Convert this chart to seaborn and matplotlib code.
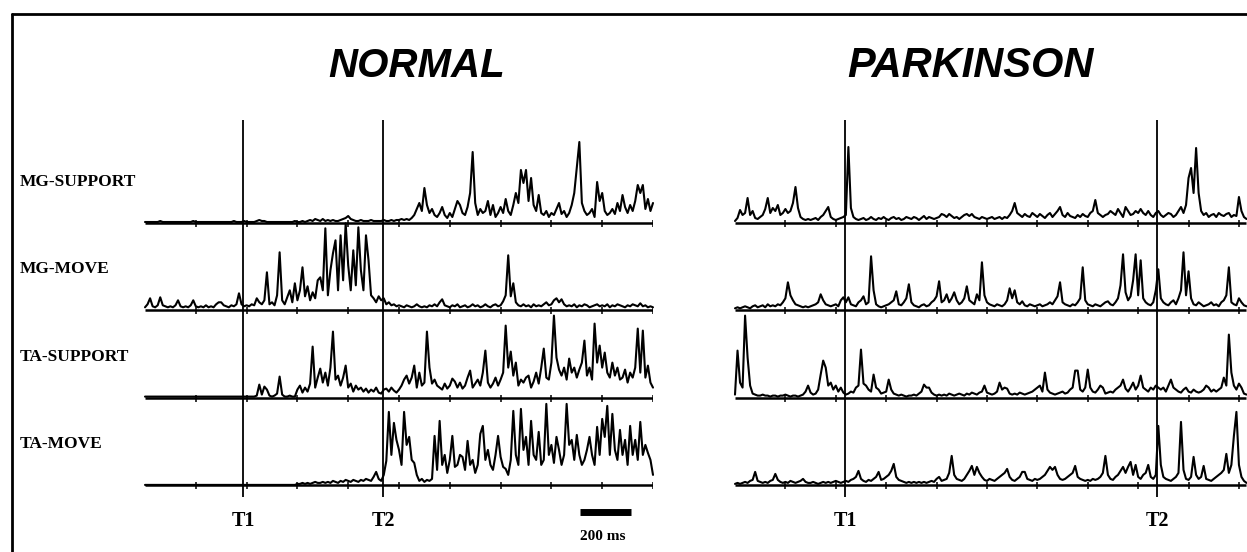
import numpy as np
import pandas as pd
import matplotlib
matplotlib.use("Agg")
import matplotlib.pyplot as plt
import seaborn as sns
from matplotlib.lines import Line2D

# ---------------- data ----------------
panels = ["NORMAL", "PARKINSON"]
rows = ["MG-SUPPORT", "MG-MOVE", "TA-SUPPORT", "TA-MOVE"]
sample_ms = 10
event_labels = ["T1", "T2"]
normal_events_ms = [386, 937]
parkinson_events_ms = [437, 1675]
tick_step_ms = 200
scale_bar_ms = 200

normal_mg_support = [
    1,1,1,1,1,1,2,1,1,1, 1,1,1,1,1,1,1,1,1,2, 1,1,1,1,1,1,1,1,1,1, 1,1,1,1,1,2,1,1,1,2,
    1,1,1,1,2,3,2,2,1,1, 1,1,1,1,1,1,1,1,1,2, 1,1,2,1,2,3,2,4,3,2, 4,2,3,2,3,2,2,3,4,5,
    7,4,3,2,2,3,2,2,2,3, 2,2,2,2,3,2,2,3,2,3, 3,4,3,4,3,5,8,14,20,12, 35,18,10,14,8,6,10,16,8,5,
    10,6,14,22,18,10,8,16,30,71, 20,8,14,10,12,22,8,18,6,10, 16,10,24,12,8,18,30,20,53,40,
    53,22,45,18,12,28,10,8,12,6, 10,8,14,20,9,12,6,10,18,30, 55,81,20,12,8,10,14,6,41,22,
    30,12,8,10,14,9,20,12,28,16, 10,18,12,22,38,30,38,14,24,12, 20]
normal_mg_move = [
    3,6,12,4,3,5,13,5,4,3, 4,3,5,10,4,3,4,3,5,10, 4,3,4,3,5,3,4,3,6,8, 8,5,4,3,5,4,6,17,6,4,
    5,4,6,5,12,8,6,10,38,6, 8,5,15,58,10,6,13,20,8,27, 10,20,43,14,24,10,18,12,30,33,
    20,82,15,40,57,70,20,75,30,87, 45,20,60,25,83,40,20,75,50,15, 12,8,14,10,12,6,8,5,6,4,
    5,4,3,5,4,3,4,6,4,3, 4,3,5,4,6,4,8,11,5,4, 3,5,4,6,3,4,5,3,4,6, 4,5,3,4,6,4,3,5,6,4,
    5,9,15,55,14,27,8,5,4,6, 4,5,3,6,4,5,4,6,8,5, 6,10,12,8,11,6,4,5,4,6, 3,5,4,6,5,3,4,5,6,4,
    5,4,6,3,5,4,6,5,4,3, 5,4,6,5,4,7,4,5,3,4, 3]
normal_ta_support = [
    1,1,1,1,1,1,1,1,1,1, 1,1,1,1,1,1,1,1,1,1, 1,1,1,1,1,1,1,1,1,1, 1,1,1,1,1,1,1,1,1,1,
    1,1,1,1,2,13,3,11,8,2, 1,2,4,21,3,1,1,2,1,1, 8,12,5,10,6,14,51,10,20,29,
    15,25,12,30,66,18,22,12,20,32, 10,14,6,12,8,10,6,9,5,8, 6,10,5,4,8,9,6,10,7,5,
    8,12,18,22,14,20,32,10,25,12, 15,66,30,14,18,12,10,8,14,9, 12,19,16,10,15,9,12,20,27,10,
    14,18,12,25,47,15,10,14,20,12, 18,25,72,30,46,22,35,12,18,15, 20,22,10,16,25,14,30,49,20,18,
    35,82,40,28,22,30,18,39,25,30, 20,28,35,57,22,30,18,74,35,52, 30,45,25,20,35,22,30,18,20,28,
    15,25,20,30,69,25,67,20,32,15, 10]
normal_ta_move = [
    0,0,0,0,0,0,0,0,0,0, 0,0,0,0,0,0,0,0,0,0, 0,0,0,0,0,0,0,0,0,0, 0,0,0,0,0,0,0,0,0,0,
    0,0,0,0,0,0,0,0,0,0, 0,0,0,0,0,0,0,0,0,0, 1,1,2,1,2,1,2,3,2,2, 3,2,3,2,4,3,2,4,3,5,
    4,3,5,4,3,5,4,6,5,4, 8,13,6,4,10,24,73,30,62,45, 35,20,73,40,48,25,22,10,4,6,
    3,5,4,6,49,15,64,20,30,12, 25,49,18,20,30,28,15,44,20,25, 12,20,51,59,25,35,20,15,30,49,
    28,18,16,10,25,74,30,20,76,35, 48,20,64,30,25,53,20,25,81,30, 40,22,48,35,20,30,81,40,45,25,
    50,30,20,25,35,48,30,20,58,30, 66,48,79,30,71,35,25,55,30,45, 20,59,30,45,25,63,30,40,32,25,
    10]

parkinson_mg_support = [
    2,5,13,8,10,25,8,12,5,4, 6,8,14,25,10,15,12,18,8,10, 14,10,12,20,36,15,6,4,3,4, 3,4,5,3,6,8,12,16,6,4,
    3,4,5,6,8,76,15,6,4,3, 4,5,3,4,6,4,3,5,4,6, 4,3,5,6,4,5,3,4,6,5, 4,6,5,3,5,7,4,6,5,4,
    5,6,9,8,6,9,7,5,6,4, 6,8,9,7,9,6,5,4,6,5, 4,5,6,4,5,6,4,6,5,8, 12,20,10,8,6,9,7,6,10,8,
    6,9,7,5,8,10,6,9,12,16, 8,6,10,7,6,5,8,6,9,7, 6,10,12,23,10,8,6,8,9,12, 10,8,14,10,6,16,12,8,9,12,
    10,14,10,8,12,8,6,10,12,8, 6,8,10,9,6,8,12,16,10,18, 45,55,30,75,30,12,8,10,6,8,
    9,6,10,8,7,9,10,6,8,7, 26,12,6,4]
parkinson_mg_move = [
    2,3,2,3,4,3,2,4,5,3, 4,5,3,6,4,5,4,6,5,8, 12,28,15,10,6,5,4,3,4,3, 4,5,6,8,16,10,6,5,4,5,
    6,4,10,13,8,13,6,5,4,8, 10,14,6,8,54,20,6,4,3,4, 5,6,8,10,19,6,5,8,12,26, 8,5,4,3,5,6,4,5,8,10,
    14,29,8,10,16,8,12,18,10,6, 8,12,24,10,8,6,16,10,48,15, 8,6,5,4,6,5,4,6,10,22, 12,20,8,6,9,5,4,6,5,4,
    5,6,4,5,6,8,6,10,14,28, 8,6,5,4,6,5,8,12,43,10, 6,5,4,6,5,4,6,8,9,6, 5,8,12,25,56,18,10,14,30,56,
    15,50,12,8,6,5,8,20,41,12, 8,6,5,8,10,6,12,20,58,15, 39,12,6,5,8,6,4,5,6,8,
    5,6,4,8,10,15,43,8,6,5, 12,8,5,4]
parkinson_ta_support = [
    3,47,15,10,82,40,12,4,3,2, 2,3,2,2,1,2,2,1,2,2, 3,2,1,2,2,1,2,3,6,12, 5,3,4,8,23,37,30,12,15,8,
    12,6,10,5,3,4,6,5,10,12, 48,14,12,8,6,23,10,8,4,5, 6,18,8,4,3,2,3,2,1,2, 2,3,2,4,6,13,10,10,5,3,
    2,3,2,3,2,4,3,2,3,4, 3,2,4,3,5,4,3,5,6,12, 5,4,3,4,6,15,8,10,9,4, 3,4,3,5,4,3,4,5,6,8,
    10,12,6,25,8,5,4,3,4,5, 6,4,5,8,10,27,27,8,6,10, 28,10,6,5,8,12,10,4,5,6, 5,8,10,12,18,9,6,10,15,8,
    12,22,10,8,6,10,8,12,10,8, 10,6,12,18,10,8,6,5,8,10, 6,5,8,6,5,6,8,12,10,6,
    8,6,8,10,20,12,63,25,12,8, 14,10,4,3]
parkinson_ta_move = [
    1,2,1,2,3,2,4,5,13,4, 3,2,3,2,4,5,11,5,3,2, 3,2,4,3,2,3,4,6,3,2, 2,3,2,1,2,3,2,3,2,3,
    4,3,2,3,4,3,5,6,8,14, 6,4,3,5,4,6,8,13,5,6, 8,10,14,21,8,5,4,3,2,3, 2,3,2,3,2,3,2,3,4,3,
    6,8,4,5,6,12,29,10,6,5, 4,6,10,14,19,10,18,12,8,5, 4,6,5,4,6,8,10,12,16,8, 5,4,6,8,13,13,6,5,4,6,
    5,6,8,10,14,18,15,18,10,6, 5,6,8,10,12,19,8,6,5,4, 5,4,6,5,6,8,12,29,10,6, 5,8,10,14,18,12,18,23,10,20,
    8,6,10,12,20,8,6,10,59,20, 8,6,5,4,6,8,12,63,15,6, 5,8,28,10,6,8,19,6,5,4,
    6,8,10,12,15,31,12,20,49,73, 20,8,4,2]

traces = {
    "NORMAL": [normal_mg_support, normal_mg_move, normal_ta_support, normal_ta_move],
    "PARKINSON": [parkinson_mg_support, parkinson_mg_move, parkinson_ta_support, parkinson_ta_move],
}
events = {"NORMAL": normal_events_ms, "PARKINSON": parkinson_events_ms}

# ---------------- layout ----------------
W, H = 1247, 552
sns.set_theme(style="white")
plt.rcParams["font.family"] = ["Liberation Serif", "DejaVu Serif"]
plt.rcParams["text.color"] = "black"

fig = plt.figure(figsize=(W / 100, H / 100), dpi=100)
fig.patch.set_facecolor("white")

def fx(px):
    return px / W

def fy(py):
    return 1 - py / H

col_px = {"NORMAL": (145, 653, 2000), "PARKINSON": (735, 1247, 2032)}
base0_px = 223
row_gap = 87.3
ax_top_px = 100

for p in panels:
    x0, x1, span = col_px[p]
    ax = fig.add_axes([fx(x0), 0, fx(x1) - fx(x0), fy(ax_top_px)])
    ax.set_xlim(0, span)
    ax.set_ylim(base0_px - H, base0_px - ax_top_px)
    ax.axis("off")
    for r, vals in enumerate(traces[p]):
        off = -r * row_gap
        t = np.arange(len(vals)) * sample_ms
        df = pd.DataFrame({"t": t, "v": np.asarray(vals, float) + off})
        sns.lineplot(data=df, x="t", y="v", ax=ax, color="black", lw=1.5,
                     estimator=None, clip_on=False, legend=False)
        tend = t[-1]
        ax.hlines(off, 0, tend, color="black", lw=1.8)
        ticks = np.arange(tick_step_ms, tend + 1, tick_step_ms)
        ax.vlines(ticks, off - 4, off + 3, color="black", lw=1.1)
    ev = events[p]
    bottom = -3 * row_gap - 12
    ax.vlines(ev, bottom, 103, color="black", lw=1.3, clip_on=False)
    for e, lab in zip(ev, event_labels):
        ax.text(e, base0_px - 521, lab, ha="center", va="center", fontsize=14.5,
                fontweight="bold", family="Liberation Serif", color="black")
    if p == "NORMAL":
        sb0 = 1713
        ax.hlines(base0_px - 512, sb0, sb0 + scale_bar_ms, color="black", lw=5)
        ax.text(sb0 + scale_bar_ms / 2 - 10, base0_px - 537, f"{scale_bar_ms} ms", ha="center",
                va="center", fontsize=11, fontweight="bold", family="Liberation Serif",
                color="black")

# row labels
for r, name in enumerate(rows):
    fig.text(fx(20), fy(base0_px - 41 + r * row_gap), name, ha="left", va="center",
             fontsize=12.5, fontweight="bold", family="Liberation Serif", color="black")

# titles
fig.text(fx(417), fy(66), "NORMAL", ha="center", va="center", fontsize=29,
         fontweight="bold", fontstyle="italic", family="Liberation Sans", color="black")
fig.text(fx(970), fy(66), "PARKINSON", ha="center", va="center", fontsize=30,
         fontweight="bold", fontstyle="italic", family="Liberation Sans", color="black")

# frame lines (left and top)
fig.add_artist(Line2D([fx(12), fx(12)], [fy(14), 0], color="black", lw=2,
                      transform=fig.transFigure))
fig.add_artist(Line2D([fx(12), 1], [fy(14), fy(14)], color="black", lw=2,
                      transform=fig.transFigure))

fig.savefig("out.png", dpi=100, facecolor="white")
